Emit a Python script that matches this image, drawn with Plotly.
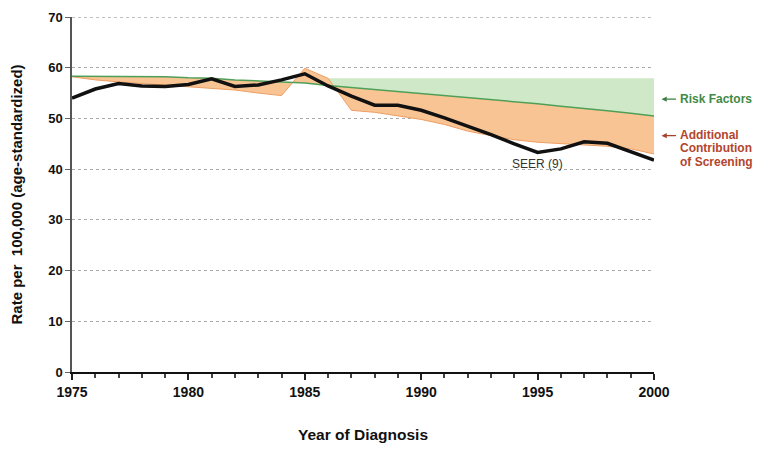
import plotly.graph_objects as go

# 진단 연도
years = list(range(1975, 2001))

# SEER (9) 관측 발생률
seer = [54.0, 55.8, 56.9, 56.4, 56.3, 56.7, 57.8, 56.3, 56.6, 57.6,
        58.8, 56.4, 54.4, 52.6, 52.6, 51.6, 50.1, 48.5, 46.8, 45.0,
        43.3, 44.0, 45.4, 45.1, 43.5, 41.8]

# 위험요인만 반영한 모형
risk_factors = [58.3, 58.3, 58.3, 58.3, 58.2, 58.0, 57.9, 57.6, 57.4, 57.2,
                57.0, 56.5, 56.1, 55.7, 55.4, 55.0, 54.6, 54.2, 53.8, 53.3,
                52.9, 52.4, 52.0, 51.5, 51.0, 50.5]

# 위험요인 + 검진 모형
with_screening = [58.2, 57.6, 57.2, 56.9, 56.6, 56.3, 56.0, 55.6, 55.0, 54.5,
                  59.9, 57.9, 51.6, 51.2, 50.5, 49.8, 48.8, 47.5, 46.6, 45.8,
                  45.3, 45.0, 44.7, 44.5, 44.0, 43.0]

# 녹색 영역 기준 수준과 시작 연도
baseline_rate = 57.9
green_start_year = 1986

# 오른쪽 설명 문구
screening_lines = ['Additional', 'Contribution', 'of Screening']

font_family = "Liberation Sans, Arial, sans-serif"
y_max = 70

fig = go.Figure()

# 녹색 영역 (위험요인 기여분)
i0 = years.index(green_start_year)
fig.add_trace(go.Scatter(
    x=years[i0:], y=[baseline_rate] * len(years[i0:]),
    mode='lines', line=dict(width=0), hoverinfo='skip', showlegend=False
))
fig.add_trace(go.Scatter(
    x=years[i0:], y=risk_factors[i0:],
    mode='lines', line=dict(width=0), fill='tonexty',
    fillcolor='#cfe9c8', hoverinfo='skip', showlegend=False
))

# 주황 영역 (검진 추가 기여분)
fig.add_trace(go.Scatter(
    x=years, y=risk_factors,
    mode='lines', line=dict(width=0), hoverinfo='skip', showlegend=False
))
fig.add_trace(go.Scatter(
    x=years, y=with_screening,
    mode='lines', line=dict(color='#ee9e62', width=1), fill='tonexty',
    fillcolor='#f9c493', showlegend=False
))

# 위험요인 선
fig.add_trace(go.Scatter(
    x=years, y=risk_factors,
    mode='lines', line=dict(color='#4f9f58', width=1.5), showlegend=False
))

# SEER 선
fig.add_trace(go.Scatter(
    x=years, y=seer,
    mode='lines', line=dict(color='#111111', width=3.5), showlegend=False
))

# 맨 위 점선 격자 (축 끝이라 자동으로 안 그려짐)
fig.add_hline(y=y_max, line=dict(color='#aaaaaa', width=1.3, dash='dot'))

# 주석 - 화살표
fig.add_annotation(x=1.013, y=53.8, xref='paper', yref='y', ax=16, ay=0,
                   text='', showarrow=True, arrowhead=2, arrowsize=0.8,
                   arrowwidth=1.3, arrowcolor='#3f7f46')
fig.add_annotation(x=1.013, y=46.6, xref='paper', yref='y', ax=16, ay=0,
                   text='', showarrow=True, arrowhead=2, arrowsize=0.8,
                   arrowwidth=1.3, arrowcolor='#a8402c')

# 주석 - 문구
fig.add_annotation(x=1.041, y=53.8, xref='paper', yref='y', xanchor='left',
                   text='Risk Factors', showarrow=False,
                   font=dict(family=font_family, size=12, color='#3f8a47', weight='bold'))
for k, line in enumerate(screening_lines):
    fig.add_annotation(x=1.041, y=46.8 - k * 2.65, xref='paper', yref='y',
                       xanchor='left', text=line, showarrow=False,
                       font=dict(family=font_family, size=12, color='#b2452e',
                                 weight='bold'))
fig.add_annotation(x=1995, y=41.0, xref='x', yref='y',
                   text='SEER (9)', showarrow=False,
                   font=dict(family=font_family, size=12, color='#333333'))

# 페이지 기본 여백(8px)을 감안한 마진
fig.update_layout(
    width=768, height=450,
    margin=dict(l=64, r=122, t=9, b=86),
    plot_bgcolor='white', paper_bgcolor='white',
    font=dict(family=font_family, color='#111111'),
    xaxis=dict(
        range=[1975, 2000], dtick=5, tick0=1975, automargin=False,
        ticks='outside', ticklen=6, tickwidth=1.5, tickcolor='#222222',
        minor=dict(dtick=1, ticks='outside', ticklen=4, tickcolor='#444444'),
        showgrid=False, zeroline=False,
        showline=True, linecolor='#111111', linewidth=2,
        tickfont=dict(size=14, weight='bold'), ticklabeloverflow='allow',
        title=dict(text='Year of Diagnosis', standoff=30,
                   font=dict(size=15.5, weight='bold')),
    ),
    yaxis=dict(
        range=[0, y_max], dtick=10, automargin=False,
        ticks='outside', ticklen=5, tickcolor='#666666',
        showgrid=True, gridcolor='#aaaaaa', griddash='dot', gridwidth=1.3,
        zeroline=False,
        showline=True, linecolor='#555555', linewidth=1.5,
        tickfont=dict(size=13, weight='bold'), ticklabeloverflow='allow',
        title=dict(text='Rate per  100,000 (age-standardized)', standoff=29,
                   font=dict(size=15, weight='bold')),
    ),
)

fig.write_html("out.html")
